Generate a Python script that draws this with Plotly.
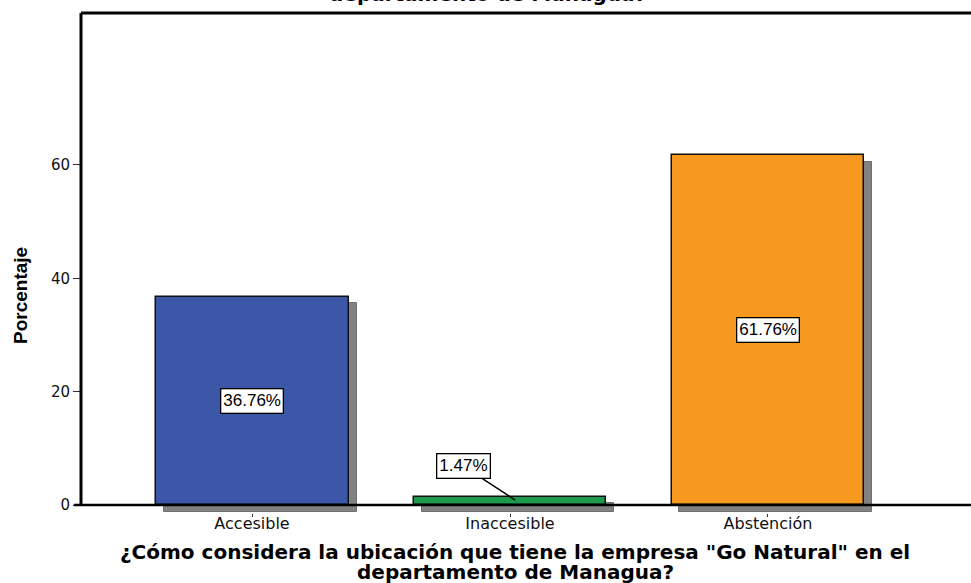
import plotly.graph_objects as go

categories = ["Accesible", "Inaccesible", "Abstención"]
percentages = [36.76, 1.47, 61.76]
bar_colors = ["#3D57A8", "#1E9A4C", "#F7991F"]
y_ticks = [0, 20, 40, 60]
x_title_lines = ["¿Cómo considera la ubicación que tiene la empresa \"Go Natural\" en el",
                 "departamento de Managua?"]
top_title = "departamento de Managua?"
y_title = "Porcentaje"

FONT = "Liberation Sans, Arial, sans-serif"
WIDE = "DejaVu Sans, Liberation Sans, sans-serif"
W, H = 971, 583
ML, MR, MT, MB = 81, 0, 13, 70
PH = H - MT - MB
PW = W - ML - MR
Y_MIN, Y_MAX = -1.4, 86.8
BAR_W = 0.748
SH_DX = 0.031   # shadow shift (x units)
SH_DY = 1.18    # shadow shift (y units)


def py(px):
    """figure pixel y -> paper y"""
    return (H - MB - px) / PH


def px_(px):
    return (px - ML) / PW


fig = go.Figure()

# drop shadows
fig.add_trace(go.Bar(
    x=categories, y=percentages, base=[-SH_DY] * len(categories),
    width=BAR_W, offset=-BAR_W / 2 + SH_DX,
    marker=dict(color="#828282", line=dict(color="#707070", width=1)),
    hoverinfo="skip", showlegend=False,
))
# main bars
fig.add_trace(go.Bar(
    x=categories, y=percentages, width=BAR_W, offset=-BAR_W / 2,
    marker=dict(color=bar_colors, line=dict(color="#111111", width=1.5)),
    showlegend=False,
))

# value labels
for i, (c, v) in enumerate(zip(categories, percentages)):
    txt = f"{v:.2f}%"
    if v > 10:
        fig.add_annotation(x=c, y=v / 2, text=txt, showarrow=False,
                           font=dict(family=FONT, size=17, color="#000"),
                           bgcolor="white", bordercolor="#000", borderwidth=1.3,
                           borderpad=2)
    else:
        fig.add_annotation(x=i + 0.02, y=v * 0.6, text=txt, showarrow=True,
                           arrowhead=0, arrowwidth=1.5, arrowcolor="#000",
                           ax=-52, ay=-34,
                           font=dict(family=FONT, size=17, color="#000"),
                           bgcolor="white", bordercolor="#000", borderwidth=1.3,
                           borderpad=2)

# clipped top title (only its lower part is visible, as in the reference)
fig.add_annotation(xref="paper", yref="paper", x=px_(487), y=py(8),
                   yanchor="bottom", text=f"<b>{top_title}</b>", showarrow=False,
                   font=dict(family=WIDE, size=20, color="#000"))

# bottom axis title (two lines)
for text, ypix in zip(x_title_lines, [552, 572]):
    fig.add_annotation(xref="paper", yref="paper", x=px_(515), y=py(ypix),
                       yanchor="middle", text=f"<b>{text}</b>", showarrow=False,
                       font=dict(family=WIDE, size=20, color="#000"))

# y axis title
fig.add_annotation(xref="paper", yref="paper", x=px_(20), y=py(296),
                   xanchor="center", yanchor="middle", textangle=-90,
                   text=f"<b>{y_title}</b>", showarrow=False,
                   font=dict(family=FONT, size=19, color="#000"))

shapes = [
    dict(type="line", xref="paper", yref="y", x0=-0.008, x1=1, y0=0, y1=0,
         line=dict(color="#000", width=2.5), layer="above"),
    dict(type="line", xref="paper", yref="y", x0=0, x1=0, y0=0, y1=Y_MAX,
         line=dict(color="#000", width=3), layer="above"),
    dict(type="line", xref="paper", yref="paper", x0=0, x1=1, y0=1, y1=1,
         line=dict(color="#000", width=3), layer="above"),
]

fig.update_layout(
    width=W, height=H,
    margin=dict(l=ML, r=MR, t=MT, b=MB, pad=0),
    paper_bgcolor="white", plot_bgcolor="white",
    barmode="overlay", bargap=0,
    shapes=shapes,
    font=dict(family=FONT, color="#000"),
    xaxis=dict(range=[-0.663, 2.787], showgrid=False, zeroline=False,
               showline=False, ticks="outside", ticklen=3, tickcolor="#333",
               ticklabelstandoff=-7,
               tickfont=dict(family=WIDE, size=16, color="#111")),
    yaxis=dict(range=[Y_MIN, Y_MAX], tickvals=y_ticks, showgrid=False,
               zeroline=False, showline=False, ticks="outside", ticklen=7,
               tickcolor="#333", tickwidth=1.2,
               tickfont=dict(family=WIDE, size=15, color="#111")),
)

fig.write_html("out.html", config={"displayModeBar": False},
               post_script="document.body.style.margin='0px';")
